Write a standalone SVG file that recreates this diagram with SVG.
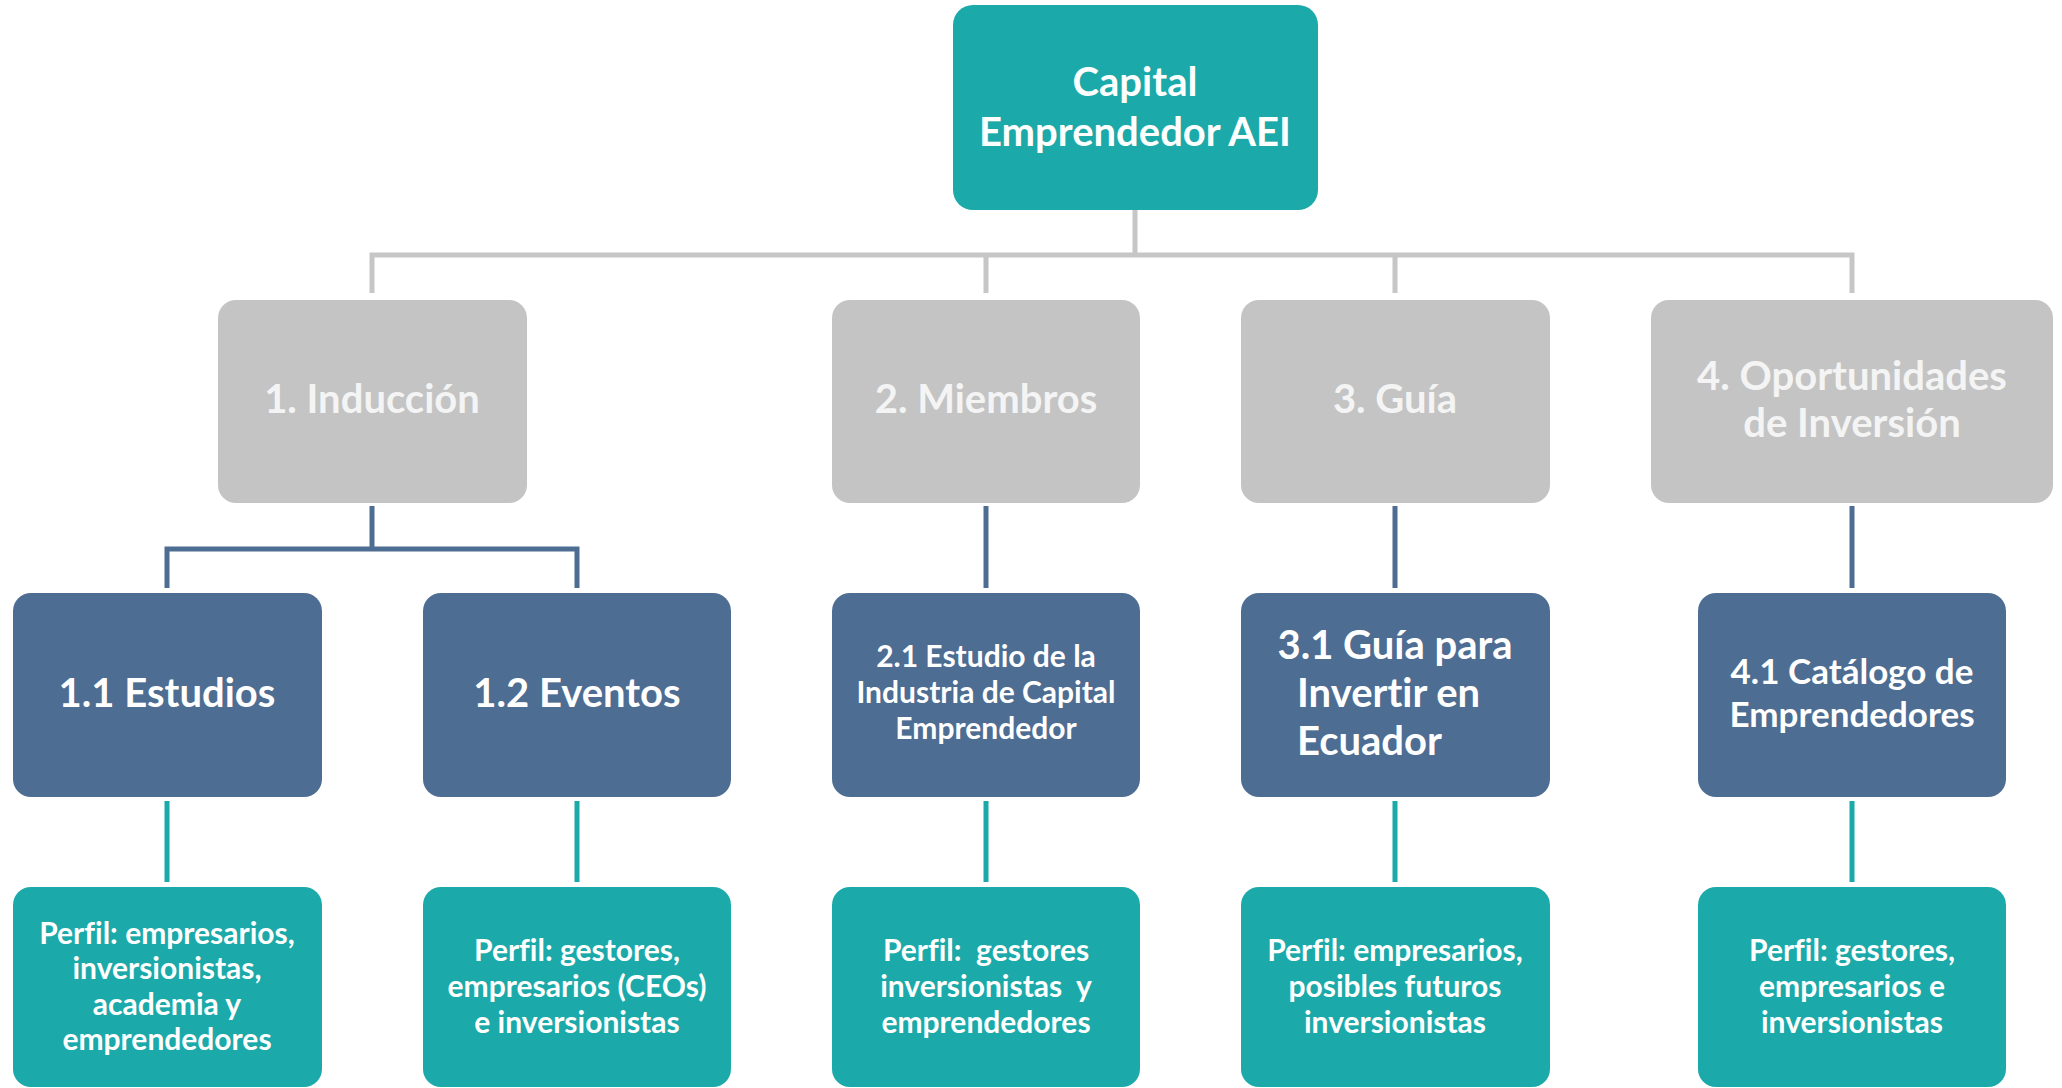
<svg xmlns="http://www.w3.org/2000/svg" width="2062" height="1088" viewBox="0 0 2062 1088">
<style>
text{font-family:Lato,"Open Sans","Liberation Sans",sans-serif;font-weight:700;text-anchor:middle;fill:#ffffff;white-space:pre;font-variant-ligatures:none}
.root{fill:#1BAAA9}
.l1{fill:#C4C4C4}
.l2{fill:#4E6D92}
.l3{fill:#1BAAA9}
.t1{fill:#F4F4F4}
.cg{stroke:#C6C6C6;stroke-width:5;fill:none}
.cb{stroke:#4E6D92;stroke-width:5;fill:none}
.ct{stroke:#1BAAA9;stroke-width:5;fill:none}
</style>
<rect width="2062" height="1088" fill="#ffffff"/>
<g id="connectors">
<path class="cg" d="M1135 210V255M372 293V255H1852V293M986 255V293M1395 255V293"/>
<path class="cb" d="M372 506V549M167 588V549H577V588M986 506V588M1395 506V588M1852 506V588"/>
<path class="ct" d="M167 801V882M577 801V882M986 801V882M1395 801V882M1852 801V882"/>
</g>
<g id="root">
<rect class="root" x="953" y="5" width="365" height="205" rx="20"/>
<text x="1135" y="96" font-size="40">Capital</text>
<text x="1135" y="146" font-size="40">Emprendedor AEI</text>
</g>
<g id="n1">
<rect class="l1" x="218" y="300" width="309" height="203" rx="18"/>
<text class="t1" x="372" y="413" font-size="40">1. Inducción</text>
</g>
<g id="n2">
<rect class="l1" x="832" y="300" width="308" height="203" rx="18"/>
<text class="t1" x="986" y="413" font-size="40">2. Miembros</text>
</g>
<g id="n3">
<rect class="l1" x="1241" y="300" width="309" height="203" rx="18"/>
<text class="t1" x="1395" y="413" font-size="40">3. Guía</text>
</g>
<g id="n4">
<rect class="l1" x="1651" y="300" width="402" height="203" rx="18"/>
<text class="t1" x="1852" y="390" font-size="40">4. Oportunidades</text>
<text class="t1" x="1852" y="437" font-size="40">de Inversión</text>
</g>
<g id="n11">
<rect class="l2" x="13" y="593" width="309" height="204" rx="18"/>
<text x="167" y="707" font-size="40">1.1 Estudios</text>
</g>
<g id="n12">
<rect class="l2" x="423" y="593" width="308" height="204" rx="18"/>
<text x="577" y="707" font-size="40">1.2 Eventos</text>
</g>
<g id="n21">
<rect class="l2" x="832" y="593" width="308" height="204" rx="18"/>
<text x="986" y="667" font-size="30">2.1 Estudio de la</text>
<text x="986" y="703" font-size="30">Industria de Capital</text>
<text x="986" y="739" font-size="30">Emprendedor</text>
</g>
<g id="n31">
<rect class="l2" x="1241" y="593" width="309" height="204" rx="18"/>
<text x="1395" y="659" font-size="40">3.1 Guía para</text>
<text x="1297" y="707" font-size="40" style="text-anchor:start">Invertir en</text>
<text x="1297" y="755" font-size="40" style="text-anchor:start">Ecuador</text>
</g>
<g id="n41">
<rect class="l2" x="1698" y="593" width="308" height="204" rx="18"/>
<text x="1852" y="684" font-size="35">4.1 Catálogo de</text>
<text x="1852" y="727" font-size="35">Emprendedores</text>
</g>
<g id="p11">
<rect class="l3" x="13" y="887" width="309" height="200" rx="18"/>
<text x="167" y="944" font-size="30">Perfil: empresarios,</text>
<text x="167" y="979" font-size="30">inversionistas,</text>
<text x="167" y="1015" font-size="30">academia y</text>
<text x="167" y="1050" font-size="30">emprendedores</text>
</g>
<g id="p12">
<rect class="l3" x="423" y="887" width="308" height="200" rx="18"/>
<text x="577" y="961" font-size="30">Perfil: gestores,</text>
<text x="577" y="997" font-size="30">empresarios (CEOs)</text>
<text x="577" y="1033" font-size="30">e inversionistas</text>
</g>
<g id="p21">
<rect class="l3" x="832" y="887" width="308" height="200" rx="18"/>
<text x="986" y="961" font-size="30">Perfil:  gestores</text>
<text x="986" y="997" font-size="30">inversionistas  y</text>
<text x="986" y="1033" font-size="30">emprendedores</text>
</g>
<g id="p31">
<rect class="l3" x="1241" y="887" width="309" height="200" rx="18"/>
<text x="1395" y="961" font-size="30">Perfil: empresarios,</text>
<text x="1395" y="997" font-size="30">posibles futuros</text>
<text x="1395" y="1033" font-size="30">inversionistas</text>
</g>
<g id="p41">
<rect class="l3" x="1698" y="887" width="308" height="200" rx="18"/>
<text x="1852" y="961" font-size="30">Perfil: gestores,</text>
<text x="1852" y="997" font-size="30">empresarios e</text>
<text x="1852" y="1033" font-size="30">inversionistas</text>
</g>
</svg>
